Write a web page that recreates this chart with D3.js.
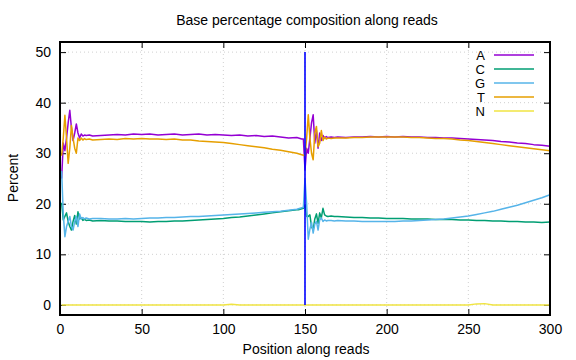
<!DOCTYPE html>
<html>
<head>
<meta charset="utf-8">
<script src="https://d3js.org/d3.v7.min.js"></script>
<style>
body { margin: 0; background: #fff; }
text { font-family: "Liberation Sans", Arial, sans-serif; }
</style>
</head>
<body>
<svg id="p1" width="576" height="360"></svg>
<script>

// positions along the read (denser where the curves wiggle)
var positions = [1,2,3,4,5,6,7,8,9,10,11,12,13,14,15,16,18,20,
    25,30,35,40,45,50,55,60,65,70,75,80,85,90,95,100,105,110,115,120,125,130,135,140,145,
    146,147,148,149,150,151,152,153,154,155,156,157,158,159,160,161,162,163,164,166,168,170,
    175,180,185,190,195,200,205,210,215,220,225,230,235,240,245,250,255,260,265,270,275,280,285,290,295,300];

var baseA = [25,32,30.5,33,36,38.5,35,32.5,34,35.8,34,33,33.8,33.4,33.6,33.5,33.6,33.4,
    33.5,33.6,33.7,33.6,33.8,33.7,33.8,33.6,33.7,33.8,33.6,33.7,33.8,33.6,33.7,33.6,33.5,33.6,33.4,33.5,33.3,33.4,33.2,33.0,33.1,
    33.0,32.9,32.8,32.8,26.7,31,30,33,36,37.6,32,34.5,31,34,32.5,33.5,33,33.3,33.1,33.2,33.1,33.2,
    33.1,33.2,33.2,33.3,33.2,33.3,33.2,33.3,33.2,33.2,33.1,33.1,33.0,33.0,32.9,32.8,32.7,32.6,32.5,32.3,32.2,32.0,31.9,31.7,31.6,31.4];

var baseC = [20.2,16.8,17.5,18.2,16.5,15.5,14.8,16.5,17.7,16,18.4,17,17.2,16.7,16.9,16.7,16.8,16.6,
    16.7,16.6,16.6,16.5,16.5,16.5,16.4,16.5,16.5,16.6,16.6,16.7,16.8,16.9,17.0,17.1,17.3,17.4,17.6,17.8,18.0,18.2,18.4,18.6,18.8,
    18.8,18.9,19.0,19.1,19.8,17.5,17.5,17.8,15.5,14.8,17.0,18,16.1,18.2,17.2,19.1,17.8,17.6,17.5,17.6,17.5,17.5,
    17.4,17.3,17.3,17.2,17.2,17.1,17.1,17.1,17.0,17.0,17.0,16.9,16.9,16.9,16.8,16.8,16.7,16.7,16.6,16.6,16.5,16.5,16.4,16.4,16.3,16.4];

var baseG = [26.5,18,13.5,15.5,16.5,17.5,15.5,14.8,16.5,17.5,15.5,18,17,17.3,17,17.2,17,17.1,
    17.1,17.0,17.0,17.1,17.0,17.1,17.2,17.2,17.3,17.3,17.4,17.5,17.5,17.6,17.7,17.8,17.9,18.0,18.1,18.2,18.3,18.4,18.5,18.7,18.9,
    19.0,19.1,19.2,19.3,25,20,13,15,16.3,14.2,16,16.5,14.8,16.8,17.2,16.5,16.8,16.6,16.7,16.7,16.6,16.7,
    16.6,16.6,16.5,16.5,16.5,16.5,16.5,16.6,16.6,16.7,16.8,16.9,17.0,17.2,17.4,17.6,17.9,18.2,18.5,18.9,19.3,19.7,20.2,20.7,21.2,21.8];

var baseT = [29.5,33,37.5,33,28,31,35.5,33,31,30,33,32.5,33,32.6,32.9,32.7,32.8,32.6,
    32.7,32.8,32.7,32.9,32.8,32.9,32.8,32.8,32.7,32.8,32.6,32.6,32.4,32.3,32.2,32.1,31.9,31.7,31.5,31.3,31.1,30.8,30.6,30.3,30.0,
    29.9,29.8,29.7,29.6,29.5,33,37.6,33,30,28.7,34,35.3,31.3,32,34.5,32.5,33.2,32.8,33.0,32.9,33.0,33.0,
    33.0,33.1,33.1,33.2,33.2,33.2,33.2,33.2,33.1,33.1,33.0,32.9,32.9,32.8,32.6,32.5,32.3,32.1,31.9,31.7,31.5,31.3,31.1,30.9,30.7,30.5];

var baseN = [0,0,0,0,0,0,0,0,0,0,0,0,0,0,0,0,0,0,
    0,0,0,0,0,0,0,0,0,0,0,0,0,0,0,0,0.15,0,0,0,0,0,0,0,0,
    0,0,0,0,0,0,0,0,0,0,0,0,0,0,0,0,0,0,0,0,0,0,
    0,0,0,0,0,0,0,0,0,0,0,0,0,0,0,0,0.2,0.25,0,0,0,0,0,0,0,0];

var seriesNames = ["A", "C", "G", "T", "N"];
var seriesColors = ["#9400d3", "#009e73", "#56b4e9", "#e69f00", "#f0e442"];
var seriesValues = [baseA, baseC, baseG, baseT, baseN];

// read boundary marker
var markerX = [150, 150];
var markerY = [0, 50];

var xTicks = [0, 50, 100, 150, 200, 250, 300];
var yTicks = [0, 10, 20, 30, 40, 50];

var pLeft = 60, pRight = 550, pTop = 42, pBottom = 315;

var x = d3.scaleLinear().domain([0, 300]).range([pLeft, pRight]);
var y = d3.scaleLinear().domain([-2, 52]).range([pBottom, pTop]);

var svg1 = d3.select("#p1");

// grid
svg1.append("g")
    .selectAll("line")
    .data(xTicks.slice(1, -1))
    .enter()
    .append("line")
    .attr("x1", function(d) { return x(d); })
    .attr("x2", function(d) { return x(d); })
    .attr("y1", pTop)
    .attr("y2", pBottom)
    .attr("stroke", "#b0b0b0")
    .attr("stroke-width", 0.6)
    .attr("stroke-dasharray", "1,3");

svg1.append("g")
    .selectAll("line")
    .data(yTicks)
    .enter()
    .append("line")
    .attr("x1", pLeft)
    .attr("x2", pRight)
    .attr("y1", function(d) { return y(d); })
    .attr("y2", function(d) { return y(d); })
    .attr("stroke", "#b0b0b0")
    .attr("stroke-width", 0.6)
    .attr("stroke-dasharray", "1,3");

// axes, ticks pointing inward and mirrored
var xBottom = d3.axisBottom(x).tickValues(xTicks).tickSize(-6).tickPadding(9);
var xTop = d3.axisTop(x).tickValues(xTicks).tickSize(-6).tickFormat("");
var yLeft = d3.axisLeft(y).tickValues(yTicks).tickSize(-6).tickPadding(9);
var yRight = d3.axisRight(y).tickValues(yTicks).tickSize(-6).tickFormat("");

function styleAxis(g) {
    g.select(".domain").remove();
    g.selectAll(".tick line").attr("stroke", "#000").attr("stroke-width", 1);
    g.selectAll(".tick text")
        .attr("font-family", "Liberation Sans, Arial, sans-serif")
        .attr("font-size", "14px")
        .attr("fill", "#000");
}

svg1.append("g").attr("transform", "translate(0," + pBottom + ")").call(xBottom).call(styleAxis);
svg1.append("g").attr("transform", "translate(0," + pTop + ")").call(xTop).call(styleAxis);
svg1.append("g").attr("transform", "translate(" + pLeft + ",0)").call(yLeft).call(styleAxis);
svg1.append("g").attr("transform", "translate(" + pRight + ",0)").call(yRight).call(styleAxis);

// lines
var line = d3.line()
    .x(function(d) { return x(d[0]); })
    .y(function(d) { return y(d[1]); });

seriesValues.forEach(function(vals, i) {
    var pts = positions.map(function(p, j) { return [p, vals[j]]; });
    svg1.append("path")
        .attr("d", line(pts))
        .attr("fill", "none")
        .attr("stroke", seriesColors[i])
        .attr("stroke-width", 1.5)
        .attr("stroke-linejoin", "round");
});

svg1.append("path")
    .attr("d", line(markerX.map(function(p, j) { return [p, markerY[j]]; })))
    .attr("fill", "none")
    .attr("stroke", "#0000ff")
    .attr("stroke-width", 1.6);

// frame
svg1.append("rect")
    .attr("x", pLeft)
    .attr("y", pTop)
    .attr("width", pRight - pLeft)
    .attr("height", pBottom - pTop)
    .attr("fill", "none")
    .attr("stroke", "#000")
    .attr("stroke-width", 2);

// legend
var legend = svg1.append("g");
legend.selectAll("text")
    .data(seriesNames)
    .enter()
    .append("text")
    .attr("x", 485)
    .attr("y", function(d, i) { return 59.5 + i * 14; })
    .attr("text-anchor", "end")
    .attr("font-size", "13px")
    .text(function(d) { return d; });

legend.selectAll("line")
    .data(seriesNames)
    .enter()
    .append("line")
    .attr("x1", 494)
    .attr("x2", 534)
    .attr("y1", function(d, i) { return 55 + i * 14; })
    .attr("y2", function(d, i) { return 55 + i * 14; })
    .attr("stroke", function(d, i) { return seriesColors[i]; })
    .attr("stroke-width", 1.5);

// titles
svg1.append("text")
    .attr("x", 307)
    .attr("y", 25)
    .attr("text-anchor", "middle")
    .attr("font-size", "14px")
    .text("Base percentage composition along reads");

svg1.append("text")
    .attr("x", 306)
    .attr("y", 354)
    .attr("text-anchor", "middle")
    .attr("font-size", "14px")
    .text("Position along reads");

svg1.append("text")
    .attr("transform", "translate(18,178) rotate(-90)")
    .attr("text-anchor", "middle")
    .attr("font-size", "14px")
    .text("Percent");

</script>
</body>
</html>
